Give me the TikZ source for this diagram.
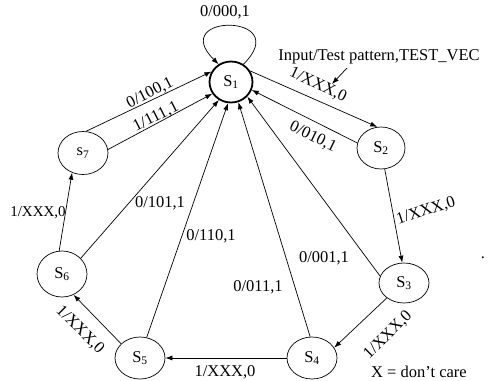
\documentclass[tikz,border=0pt]{standalone}
\usepackage{fontspec}
\setmainfont{Liberation Serif}
\usetikzlibrary{shapes.geometric,arrows.meta}

\begin{document}
\begin{tikzpicture}[x=1pt,y=-1pt,
  every node/.style={font=\fontsize{16.5}{19}\selectfont, inner sep=0pt},
  state/.style={draw, ellipse, line width=0.7pt, minimum width=50pt, minimum height=42pt},
  startstate/.style={state, line width=1.8pt, minimum width=43pt, minimum height=41pt},
  arc/.style={draw, line width=0.7pt, -{Latex[length=7pt,width=5pt]}},
  lbl/.style={inner sep=0pt}
]
\path[use as bounding box, fill=white] (0,0) rectangle (500,380);

% states
\node[startstate] (S1) at (231,82)  {S\textsubscript{1}};
\node[state, minimum width=48pt] (S2) at (381,148) {S\textsubscript{2}};
\node[state, minimum height=40pt] (S3) at (404,283) {S\textsubscript{3}};
\node[state] (S4) at (312,358) {S\textsubscript{4}};
\node[state] (S5) at (140,358) {S\textsubscript{5}};
\node[state, minimum height=46pt] (S6) at (62,274)  {S\textsubscript{6}};
\node[state, minimum height=43pt] (S7) at (83,153)  {s\textsubscript{7}};

% self loop on the initial state
\draw[arc] (S1.55) .. controls (295,13) and (167,13) .. (S1.125);
\node[lbl] (l11) at (225,12) {0/000,1};

% transitions around the ring
\draw[arc] (S1.30)  -- (S2.100);
\draw[arc] (S2.280) -- (S3.95);
\draw[arc] (S3.221) -- (S4.25);
\draw[arc] (S4.180) -- (S5.0);
\draw[arc] (S5.143) -- (S6.299);
\draw[arc] (S6.97)  -- (S7.241);

% transitions back to the initial state
\draw[arc] (S7.82)  -- (S1.152);
\draw[arc] (S7.8)   -- (S1.212);
\draw[arc] (S6.40)  -- (S1.236);
\draw[arc] (S5.72)  -- (S1.262);
\draw[arc] (S4.95)  -- (S1.290);
\draw[arc] (S3.164) -- (S1.318);
\draw[arc] (S2.168) -- (S1.339);

% transition labels
\node[lbl, rotate=-25] (l12) at (318,85)  {1/XXX,0};
\node[lbl, rotate=-26] (l21) at (313,137) {0/010,1};
\node[lbl, rotate=18]  (l23) at (426,211) {1/XXX,0};
\node[lbl] (l31) at (324,258) {0/001,1};
\node[lbl, rotate=45]  (l34) at (388,335) {1/XXX,0};
\node[lbl] (l41) at (258,287) {0/011,1};
\node[lbl] (l45) at (225,372) {1/XXX,0};
\node[lbl] (l51) at (211,236) {0/110,1};
\node[lbl, rotate=-45] (l56) at (80,330)  {1/XXX,0};
\node[lbl] (l61) at (160,203) {0/101,1};
\node[lbl, font=\fontsize{15}{18}\selectfont] (l67) at (38,213)  {1/XXX,0};
\node[lbl, rotate=27]  (l71a) at (150,93)  {0/100,1};
\node[lbl, rotate=27]  (l71b) at (156,117) {1/111,1};

% annotations
\node[lbl] (inp) at (379,57) {Input/Test pattern,TEST\_VEC};
\coordinate (tail) at (347,68);
\coordinate (tip) at (332,84);
\draw[arc] (tail) -- (tip);
\node[lbl] (dc) at (419,372) {X = don't care};
\node[lbl] (dot) at (483,258) {.};
\end{tikzpicture}
\end{document}
